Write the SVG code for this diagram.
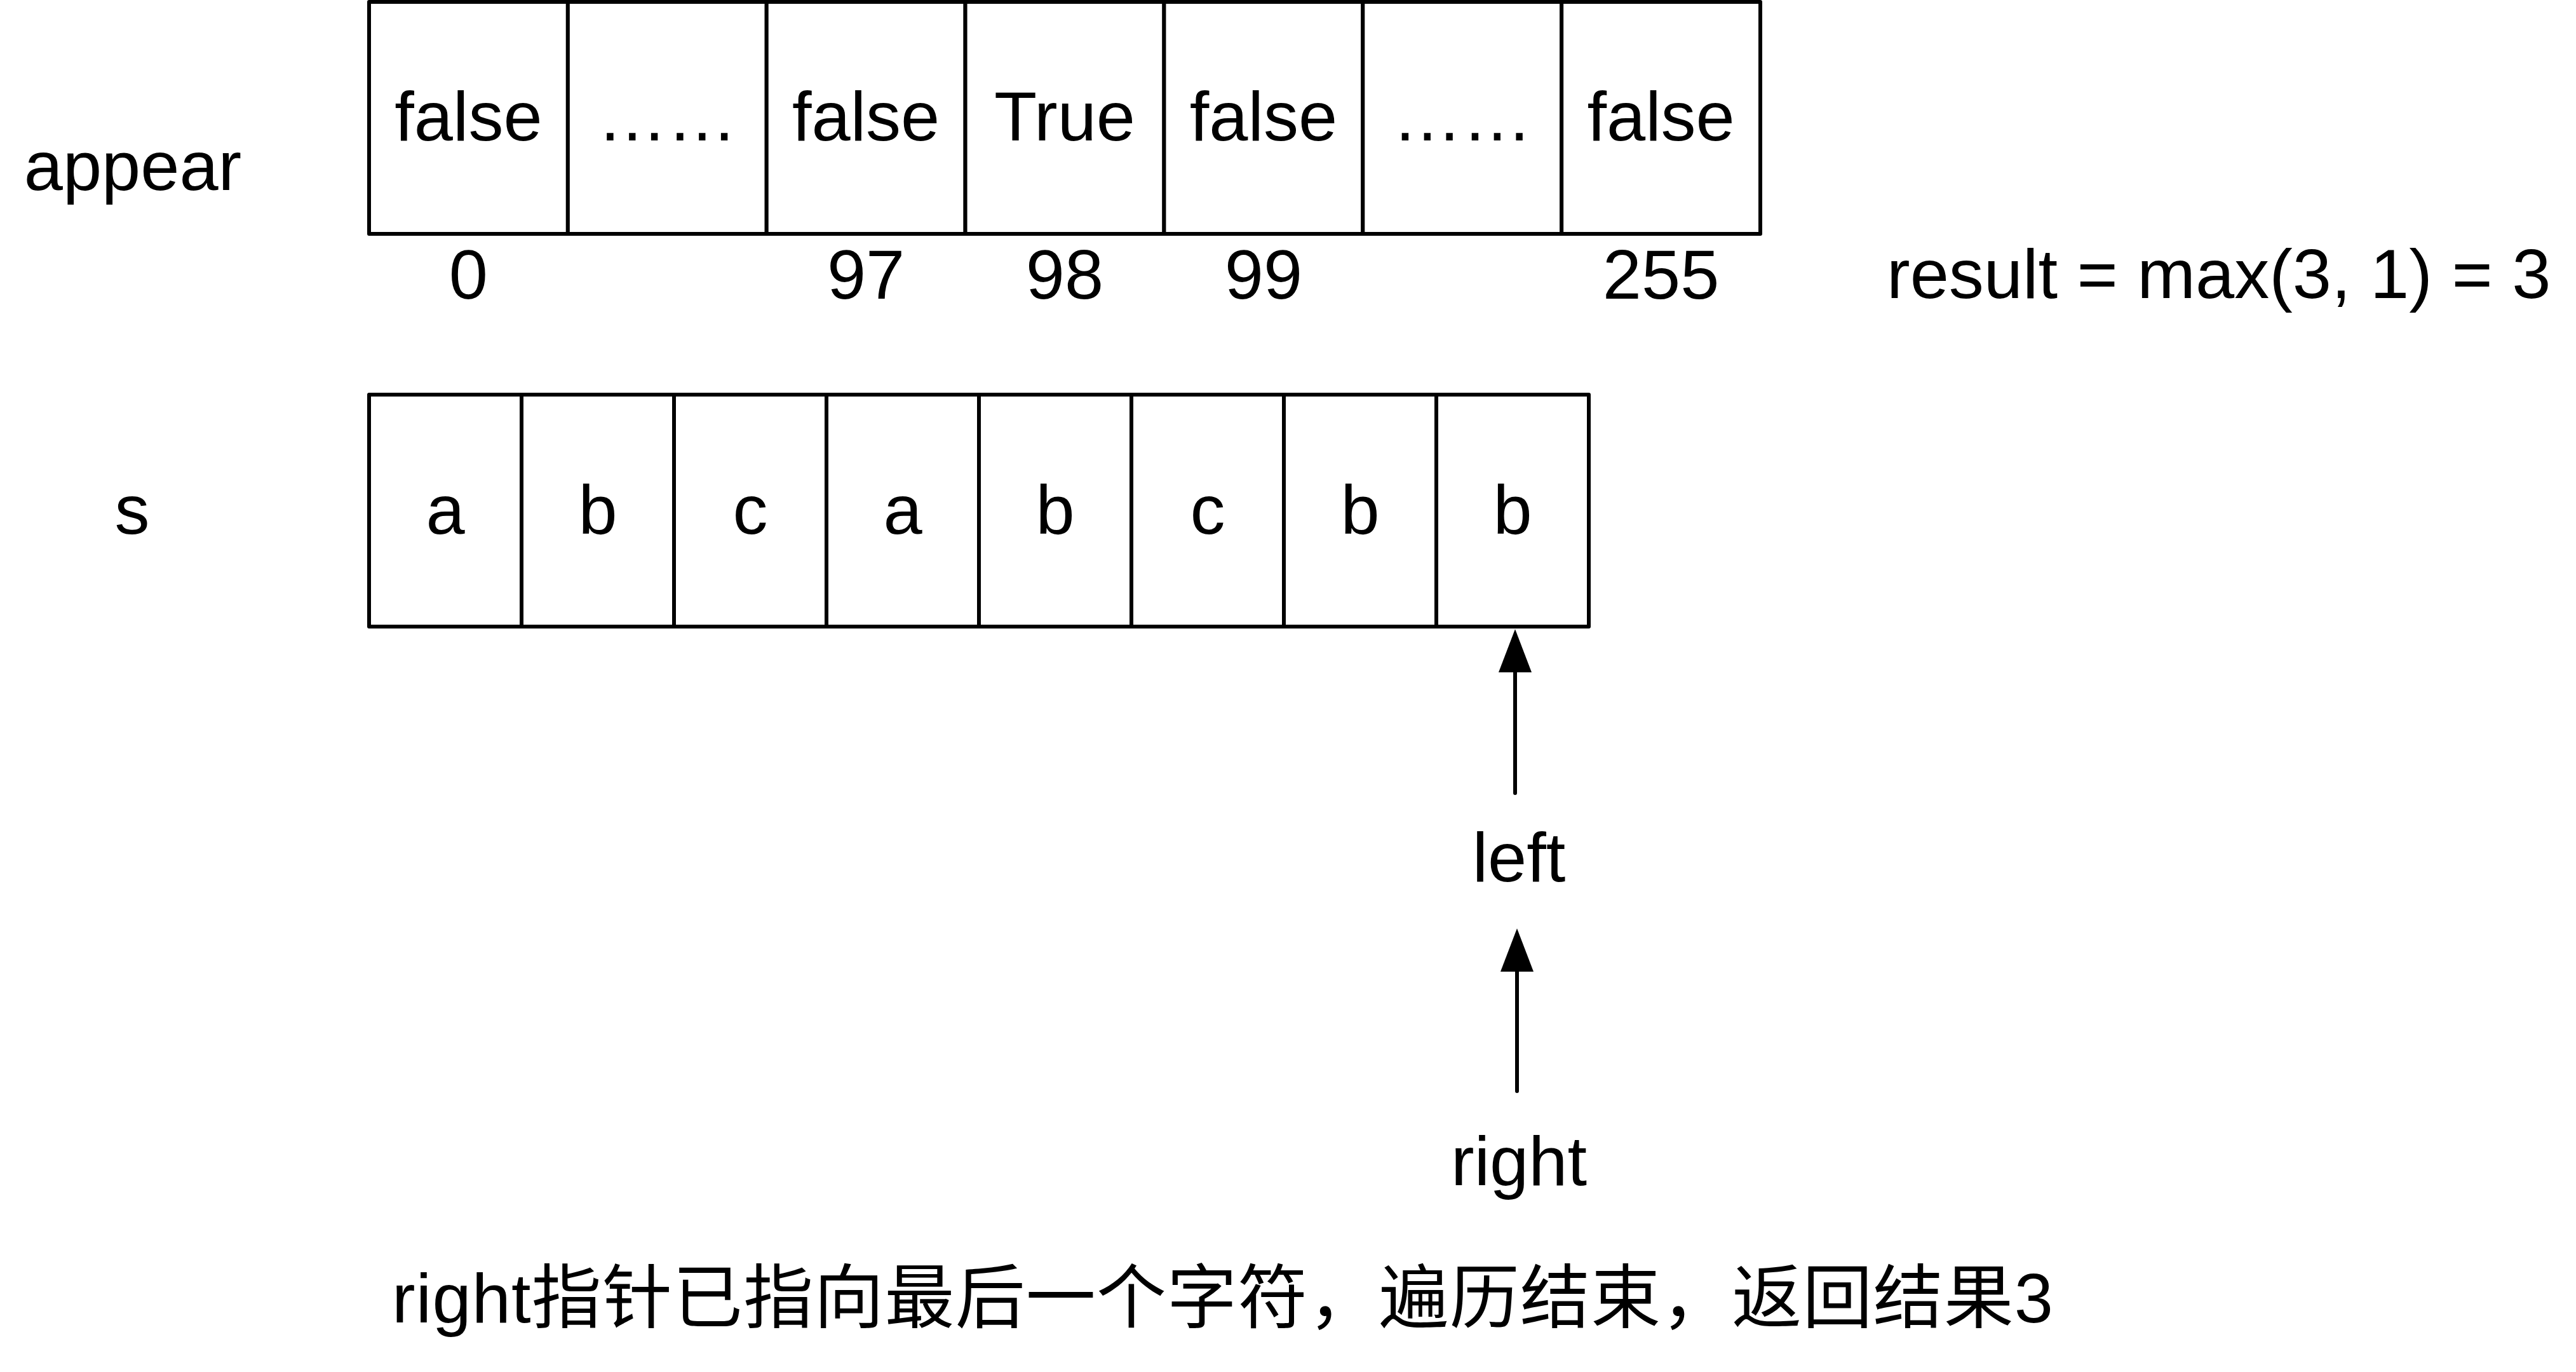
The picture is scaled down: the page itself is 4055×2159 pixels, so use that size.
<svg xmlns="http://www.w3.org/2000/svg" width="4055" height="2159" viewBox="0 0 4055 2159">
<style>
text{font-family:"Liberation Sans",Arial,"Noto Sans CJK SC",sans-serif;font-size:110px;fill:#000}
.c{text-anchor:middle}
.cell{fill:#fff;stroke:#000;stroke-width:6;stroke-linejoin:round}
.conn{stroke:#000;stroke-width:6;stroke-linecap:round;fill:none}
</style>
<defs>
<marker id="ah" markerUnits="userSpaceOnUse" viewBox="0 0 68 52" refX="0" refY="26" markerWidth="68" markerHeight="52" orient="auto">
<path d="M0,0 L68,26 L0,52 Z" fill="#000"/>
</marker>
</defs>
<rect width="4055" height="2159" fill="#fff"/>

<g id="appear-label"><text class="c" x="209" y="299">appear</text></g>

<g id="appear-array">
<g id="appear-0"><rect class="cell" x="581" y="3" width="312.86" height="365"/><text class="c" x="737.4" y="221">false</text></g>
<g id="appear-1"><rect class="cell" x="893.86" y="3" width="312.86" height="365"/><text class="c" x="1050.3" y="221">……</text></g>
<g id="appear-97"><rect class="cell" x="1206.71" y="3" width="312.86" height="365"/><text class="c" x="1363.1" y="221">false</text></g>
<g id="appear-98"><rect class="cell" x="1519.57" y="3" width="312.86" height="365"/><text class="c" x="1676" y="221">True</text></g>
<g id="appear-99"><rect class="cell" x="1832.43" y="3" width="312.86" height="365"/><text class="c" x="1988.9" y="221">false</text></g>
<g id="appear-100"><rect class="cell" x="2145.29" y="3" width="312.86" height="365"/><text class="c" x="2301.7" y="221">……</text></g>
<g id="appear-255"><rect class="cell" x="2458.14" y="3" width="312.86" height="365"/><text class="c" x="2614.6" y="221">false</text></g>
</g>

<g id="appear-indices">
<text class="c" x="737.4" y="470">0</text>
<text class="c" x="1363.1" y="470">97</text>
<text class="c" x="1676" y="470">98</text>
<text class="c" x="1988.9" y="470">99</text>
<text class="c" x="2614.6" y="470">255</text>
</g>

<g id="result"><text x="2970" y="469">result = max(3, 1) = 3</text></g>

<g id="s-label"><text class="c" x="208" y="840">s</text></g>

<g id="s-array">
<g id="s-0"><rect class="cell" x="581" y="621" width="240" height="365"/><text class="c" x="701" y="840">a</text></g>
<g id="s-1"><rect class="cell" x="821" y="621" width="240" height="365"/><text class="c" x="941" y="840">b</text></g>
<g id="s-2"><rect class="cell" x="1061" y="621" width="240" height="365"/><text class="c" x="1181" y="840">c</text></g>
<g id="s-3"><rect class="cell" x="1301" y="621" width="240" height="365"/><text class="c" x="1421" y="840">a</text></g>
<g id="s-4"><rect class="cell" x="1541" y="621" width="240" height="365"/><text class="c" x="1661" y="840">b</text></g>
<g id="s-5"><rect class="cell" x="1781" y="621" width="240" height="365"/><text class="c" x="1901" y="840">c</text></g>
<g id="s-6"><rect class="cell" x="2021" y="621" width="240" height="365"/><text class="c" x="2141" y="840">b</text></g>
<g id="s-7"><rect class="cell" x="2261" y="621" width="240" height="365"/><text class="c" x="2381" y="840">b</text></g>
</g>

<g id="connectors">
<line class="conn" x1="2385" y1="1248" x2="2385" y2="1058" marker-end="url(#ah)"/>
<line class="conn" x1="2388" y1="1717" x2="2388" y2="1529" marker-end="url(#ah)"/>
</g>

<g id="left-label"><text class="c" x="2391" y="1387">left</text></g>
<g id="right-label"><text class="c" x="2391" y="1865">right</text></g>

<g id="caption"><text x="617" y="2081" textLength="2615" lengthAdjust="spacing">right指针已指向最后一个字符，遍历结束，返回结果3</text></g>
</svg>
